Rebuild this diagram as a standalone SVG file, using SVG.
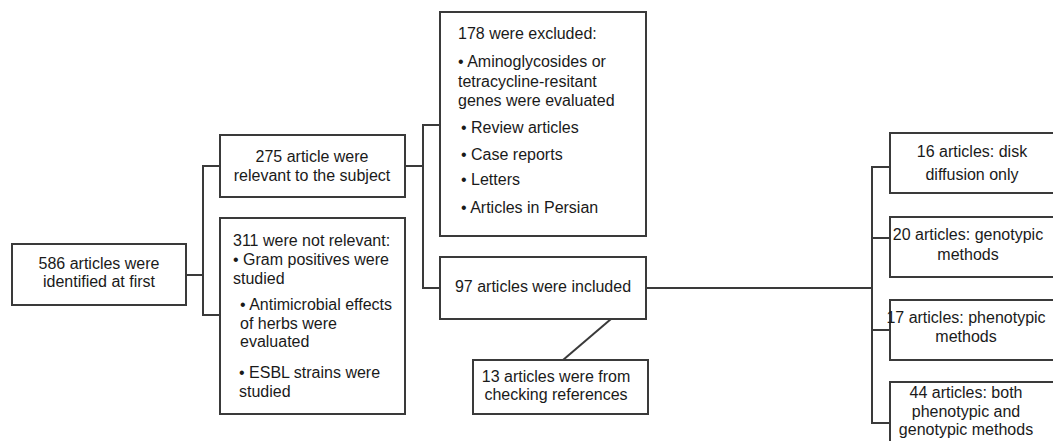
<svg xmlns="http://www.w3.org/2000/svg" width="1053" height="441" viewBox="0 0 1053 441">
<style>
.box{fill:#fff;stroke:#3a3a3a;stroke-width:2}
.ln{fill:none;stroke:#3a3a3a;stroke-width:2}
text{font-family:"Liberation Sans",Arial,sans-serif;font-size:16px;fill:#1a1a1a}
.c{text-anchor:middle}
</style>
<rect width="1053" height="441" fill="#fff"/>
<g id="connectors">
<path class="ln" d="M186,275 H203 M220,166 H203 V315 H220"/>
<path class="ln" d="M405,166 H423 M440,125 H423 V288 H440"/>
<path class="ln" d="M646,288 H872 M890,167 H872 V423 H890 M872,238 H890 M872,330 H890"/>
<path class="ln" d="M611,319 L563,360"/>
</g>
<g id="n586">
<rect class="box" x="12" y="244" width="174" height="61"/>
<text class="c" x="99" y="269">586 articles were</text>
<text class="c" x="99" y="287">identified at first</text>
</g>
<g id="n275">
<rect class="box" x="220" y="135" width="185" height="62"/>
<text class="c" x="312" y="162">275 article were</text>
<text class="c" x="312" y="181">relevant to the subject</text>
</g>
<g id="n311">
<rect class="box" x="220" y="218" width="185" height="196"/>
<text x="233" y="246">311 were not relevant:</text>
<text x="233" y="265">• Gram positives were</text>
<text x="233" y="284">studied</text>
<text x="240" y="310">• Antimicrobial effects</text>
<text x="240" y="329">of herbs were</text>
<text x="240" y="347">evaluated</text>
<text x="239" y="378">• ESBL strains were</text>
<text x="239" y="397">studied</text>
</g>
<g id="n178">
<rect class="box" x="440" y="12" width="206" height="224"/>
<text x="458" y="39">178 were excluded:</text>
<text x="458" y="67">• Aminoglycosides or</text>
<text x="458" y="87">tetracycline-resitant</text>
<text x="458" y="106">genes were evaluated</text>
<text x="461" y="133">• Review articles</text>
<text x="461" y="160">• Case reports</text>
<text x="461" y="185">• Letters</text>
<text x="461" y="213">• Articles in Persian</text>
</g>
<g id="n97">
<rect class="box" x="440" y="257" width="206" height="62"/>
<text class="c" x="543" y="292">97 articles were included</text>
</g>
<g id="n13">
<rect class="box" x="473" y="360" width="175" height="54"/>
<text class="c" x="556" y="382">13 articles were from</text>
<text class="c" x="556" y="400">checking references</text>
</g>
<g id="n16">
<rect class="box" x="890" y="133" width="170" height="60"/>
<text class="c" x="972" y="157">16 articles: disk</text>
<text class="c" x="972" y="180">diffusion only</text>
</g>
<g id="n20">
<rect class="box" x="890" y="217" width="170" height="60"/>
<text class="c" x="968" y="240">20 articles: genotypic</text>
<text class="c" x="968" y="260">methods</text>
</g>
<g id="n17">
<rect class="box" x="890" y="300" width="170" height="60"/>
<text class="c" x="966" y="323">17 articles: phenotypic</text>
<text class="c" x="966" y="342">methods</text>
</g>
<g id="n44">
<rect class="box" x="890" y="382" width="170" height="70"/>
<text class="c" x="966" y="398">44 articles: both</text>
<text class="c" x="966" y="417">phenotypic and</text>
<text class="c" x="966" y="435">genotypic methods</text>
</g>
</svg>
